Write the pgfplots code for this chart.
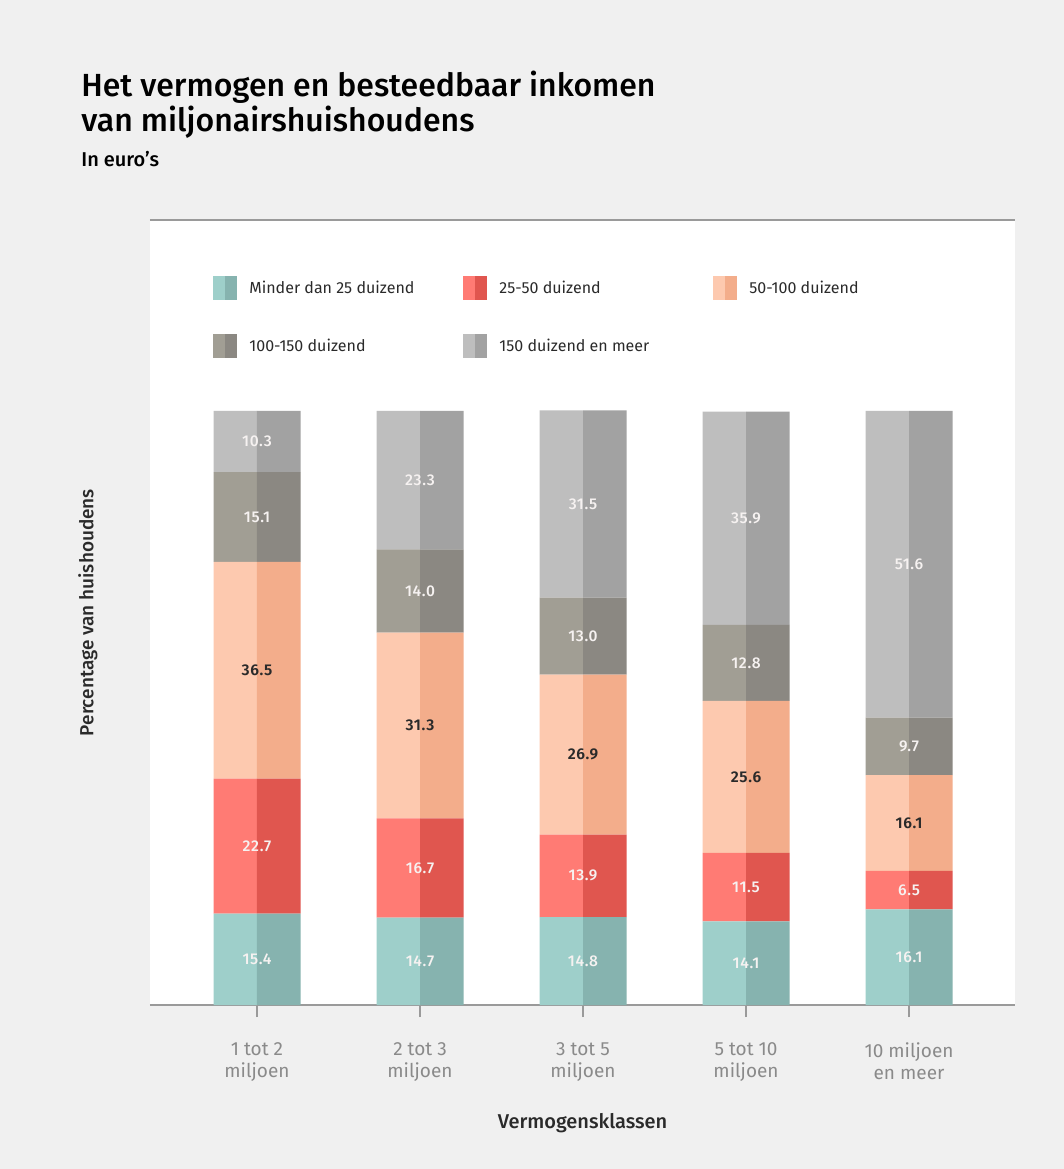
\documentclass[border=0pt]{standalone}
\usepackage{pgfplots}
\pgfplotsset{compat=1.18}
\usepackage{pgfplotstable}
\usepackage{fontspec}
\setmainfont{Fira Sans}
\newfontfamily\titlefont{Fira Sans Medium}
\newfontfamily\labfont{Fira Sans Medium}[LetterSpace=4]
\newfontfamily\labboldfont{Fira Sans SemiBold}[LetterSpace=4]
\definecolor{bg}{HTML}{F0F0F0}
\definecolor{axgray}{HTML}{9A9A9A}
\definecolor{tickgray}{HTML}{8A8A8A}
\definecolor{textdark}{HTML}{2A2A2A}
\definecolor{labwhite}{HTML}{F6F2F1}
\definecolor{tealL}{HTML}{9ECFCA}
\definecolor{tealD}{HTML}{86B3AF}
\definecolor{redL}{HTML}{FF7B74}
\definecolor{redD}{HTML}{E0564F}
\definecolor{peachL}{HTML}{FDC9AF}
\definecolor{peachD}{HTML}{F3AD8B}
\definecolor{taupeL}{HTML}{A19E94}
\definecolor{taupeD}{HTML}{8B8882}
\definecolor{greyL}{HTML}{BEBEBE}
\definecolor{greyD}{HTML}{A2A2A2}

% segment values per wealth class (bottom to top)
\pgfplotstableread{
cat a b c d e
0 15.4 22.7 36.5 15.1 10.3
1 14.7 16.7 31.3 14.0 23.3
2 14.8 13.9 26.9 13.0 31.5
3 14.1 11.5 25.6 12.8 35.9
4 16.1 6.5 16.1 9.7 51.6
}\datatable

\pgfplotsset{
  base/.style={scale only axis, width=432.5pt, height=392.5pt,
    at={(75pt,-110pt)}, anchor=north west,
    xmin=-0.6564, xmax=4.650, ymin=0, ymax=132.15, clip=false},
  barax/.style={base, ybar stacked, bar width=0.2669},
  lab/.style={draw=none, mark=none, forget plot,
    nodes near coords={\pgfplotspointmeta},
    every node near coord/.append style={anchor=center, text=labwhite,
      font=\labfont\fontsize{7.8}{8}\selectfont}},
  sq/.style 2 args={legend image code/.code={
      \fill[#1, draw=none] (0pt,-6pt) rectangle (6pt,6pt);
      \fill[#2, draw=none] (6pt,-6pt) rectangle (12pt,6pt);
      \path[draw=none, fill=none] (0pt,0pt) rectangle (18pt,0.1pt);}},
}

\begin{document}
\begin{tikzpicture}
\fill[bg] (0,0) rectangle (532pt,-584.5pt);
\path[use as bounding box] (0,0) rectangle (532pt,-584.5pt);
\node[anchor=base west, align=left, inner sep=0pt, text=black,
  font=\titlefont\fontsize{16}{17.5}\selectfont] at (40.5pt,-65.5pt)
  {Het vermogen en besteedbaar inkomen\\van miljonairshuishoudens};
\node[anchor=base west, inner sep=0pt, text=black,
  font=\titlefont\fontsize{10}{11}\selectfont] at (40.5pt,-83pt) {In euro’s};

% left (lighter) halves, with the axis frame
\begin{axis}[barax,
  axis background/.style={fill=white},
  axis x line*=bottom, axis y line*=left,
  x axis line style={draw=axgray, line width=1pt, -},
  y axis line style={draw=none},
  ytick=\empty,
  xtick={0,1,2,3,4},
  xticklabels={1 tot 2\\miljoen, 2 tot 3\\miljoen, 3 tot 5\\miljoen, 5 tot 10\\miljoen, 10 miljoen\\en meer},
  xticklabel style={align=center, text=tickgray, font=\fontsize{9.5}{11}\selectfont, yshift=-9.5pt},
  xtick style={draw=axgray, line width=0.8pt},
  tick align=outside, major tick length=6pt,
  xlabel={Vermogensklassen},
  xlabel style={at={(axis description cs:0.5,-0.1503)}, anchor=center, text=textdark, font=\titlefont\fontsize{10}{11}\selectfont},
  ylabel={Percentage van huishoudens},
  ylabel style={at={(axis description cs:-0.0717,0.5)}, anchor=center, text=textdark, font=\titlefont\fontsize{9.5}{11}\selectfont},
]
\addplot[fill=tealL, draw=none] table[x expr=\thisrow{cat}-0.1334, y=a]{\datatable};
\addplot[fill=redL, draw=none] table[x expr=\thisrow{cat}-0.1334, y=b]{\datatable};
\addplot[fill=peachL, draw=none] table[x expr=\thisrow{cat}-0.1334, y=c]{\datatable};
\addplot[fill=taupeL, draw=none] table[x expr=\thisrow{cat}-0.1334, y=d]{\datatable};
\addplot[fill=greyL, draw=none] table[x expr=\thisrow{cat}-0.1334, y=e]{\datatable};
\draw[axgray, line width=0.8pt] (rel axis cs:0,1) -- (rel axis cs:1,1);
\end{axis}

% right (darker) halves
\begin{axis}[barax, hide axis]
\addplot[fill=tealD, draw=none] table[x expr=\thisrow{cat}+0.1334, y=a]{\datatable};
\addplot[fill=redD, draw=none] table[x expr=\thisrow{cat}+0.1334, y=b]{\datatable};
\addplot[fill=peachD, draw=none] table[x expr=\thisrow{cat}+0.1334, y=c]{\datatable};
\addplot[fill=taupeD, draw=none] table[x expr=\thisrow{cat}+0.1334, y=d]{\datatable};
\addplot[fill=greyD, draw=none] table[x expr=\thisrow{cat}+0.1334, y=e]{\datatable};
\end{axis}

% value labels and legend
\begin{axis}[base, hide axis, point meta=explicit symbolic,
  legend columns=3, legend cell align=left,
  legend style={draw=none, fill=none, at={(0.07283,0.92866)}, anchor=north west,
    inner sep=0pt, row sep=17pt, column sep=0pt, text=textdark,
    font=\fontsize{8}{10}\selectfont, nodes={inner sep=0pt}},
]
\addlegendimage{sq={tealL}{tealD}}
\addlegendentry{\makebox[107pt][l]{Minder dan 25 duizend}}
\addlegendimage{sq={redL}{redD}}
\addlegendentry{\makebox[107pt][l]{25-50 duizend}}
\addlegendimage{sq={peachL}{peachD}}
\addlegendentry{\makebox[107pt][l]{50-100 duizend}}
\addlegendimage{sq={taupeL}{taupeD}}
\addlegendentry{\makebox[107pt][l]{100-150 duizend}}
\addlegendimage{sq={greyL}{greyD}}
\addlegendentry{\makebox[107pt][l]{150 duizend en meer}}

\addplot[lab] table[x=cat, y expr=\thisrow{a}/2, meta=a]{\datatable};
\addplot[lab] table[x=cat, y expr=\thisrow{a}+\thisrow{b}/2, meta=b]{\datatable};
\addplot[lab, every node near coord/.append style={text=textdark, font=\labboldfont\fontsize{7.8}{8}\selectfont}]
  table[x=cat, y expr=\thisrow{a}+\thisrow{b}+\thisrow{c}/2, meta=c]{\datatable};
\addplot[lab] table[x=cat, y expr=\thisrow{a}+\thisrow{b}+\thisrow{c}+\thisrow{d}/2, meta=d]{\datatable};
\addplot[lab] table[x=cat, y expr=\thisrow{a}+\thisrow{b}+\thisrow{c}+\thisrow{d}+\thisrow{e}/2, meta=e]{\datatable};
\end{axis}
\end{tikzpicture}
\end{document}
